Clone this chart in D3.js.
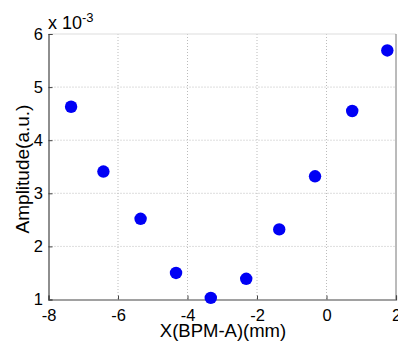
<!DOCTYPE html>
<html><head><meta charset="utf-8">
<script src="https://cdn.jsdelivr.net/npm/d3@7"></script>
<style>body{margin:0;background:#fff}svg{display:block}text{font-family:"Liberation Sans",Arial,sans-serif;fill:#000}</style>
</head><body><svg id="c" width="398" height="347"></svg>
<script>
const xValues = [-7.35, -6.42, -5.35, -4.33, -3.33, -2.31, -1.36, -0.33, 0.74, 1.75];
const yValues = [4.63, 3.41, 2.52, 1.50, 1.03, 1.39, 2.32, 3.32, 4.55, 5.69];
const xTicks = [-8, -6, -4, -2, 0, 2];
const yTicks = [1, 2, 3, 4, 5, 6];

const svg = d3.select("#c");
const L = 48.5, R = 396, T = 34, B = 299.5;
const x = d3.scaleLinear().domain([-8, 2]).range([L, R]);
const y = d3.scaleLinear().domain([1, 6]).range([B, T]);

// grid
const g = svg.append("g");
g.selectAll(".gx").data(xTicks.slice(1, -1)).enter().append("line")
  .attr("x1", d => x(d)).attr("x2", d => x(d)).attr("y1", T).attr("y2", B)
  .attr("stroke", "#bbb").attr("stroke-width", 1).attr("stroke-dasharray", "1,2");
g.selectAll(".gy").data(yTicks.slice(1, -1)).enter().append("line")
  .attr("y1", d => y(d)).attr("y2", d => y(d)).attr("x1", L).attr("x2", R)
  .attr("stroke", "#bbb").attr("stroke-width", 1).attr("stroke-dasharray", "1,2");

// box
svg.append("line").attr("x1", L).attr("x2", R).attr("y1", T).attr("y2", T).attr("stroke", "#ddd");
svg.append("line").attr("x1", R).attr("x2", R).attr("y1", T).attr("y2", B).attr("stroke", "#777");

// axes
const xAxis = d3.axisBottom(x).tickValues(xTicks).tickSize(-4).tickPadding(10).tickFormat(d3.format("d"));
const yAxis = d3.axisLeft(y).tickValues(yTicks).tickSize(-4).tickPadding(5.5).tickFormat(d3.format("d"));
const gx = svg.append("g").attr("transform", `translate(0,${B})`).call(xAxis);
const gy = svg.append("g").attr("transform", `translate(${L},0)`).call(yAxis);
[gx, gy].forEach(a => {
  a.select(".domain").attr("stroke", "#444").attr("stroke-width", 1.2);
  a.selectAll(".tick line").attr("stroke", "#444");
  a.selectAll("text").style("font-size", "16.5px").style("font-family", "Liberation Sans, Arial, sans-serif").attr("fill", "#000");
});
gx.selectAll("text").attr("dy", "0.71em").text(d => d < 0 ? "-" + Math.abs(d) : d);

// exponent
const ex = svg.append("text").attr("x", 48).attr("y", 29).style("font-size", "18px");
ex.append("tspan").text("x 10");
ex.append("tspan").attr("dy", -7).style("font-size", "13px").text("-3");

// labels
svg.append("text").attr("x", 223).attr("y", 337).attr("text-anchor", "middle")
  .style("font-size", "18.5px").text("X(BPM-A)(mm)");
svg.append("text").attr("transform", `translate(29,169) rotate(-90)`).attr("text-anchor", "middle")
  .style("font-size", "19px").text("Amplitude(a.u.)");

// points
svg.selectAll(".pt").data(xValues.map((v, i) => [v, yValues[i]])).enter().append("circle")
  .attr("cx", d => x(d[0])).attr("cy", d => y(d[1])).attr("r", 6.2).attr("fill", "#0000f5");
</script></body></html>
